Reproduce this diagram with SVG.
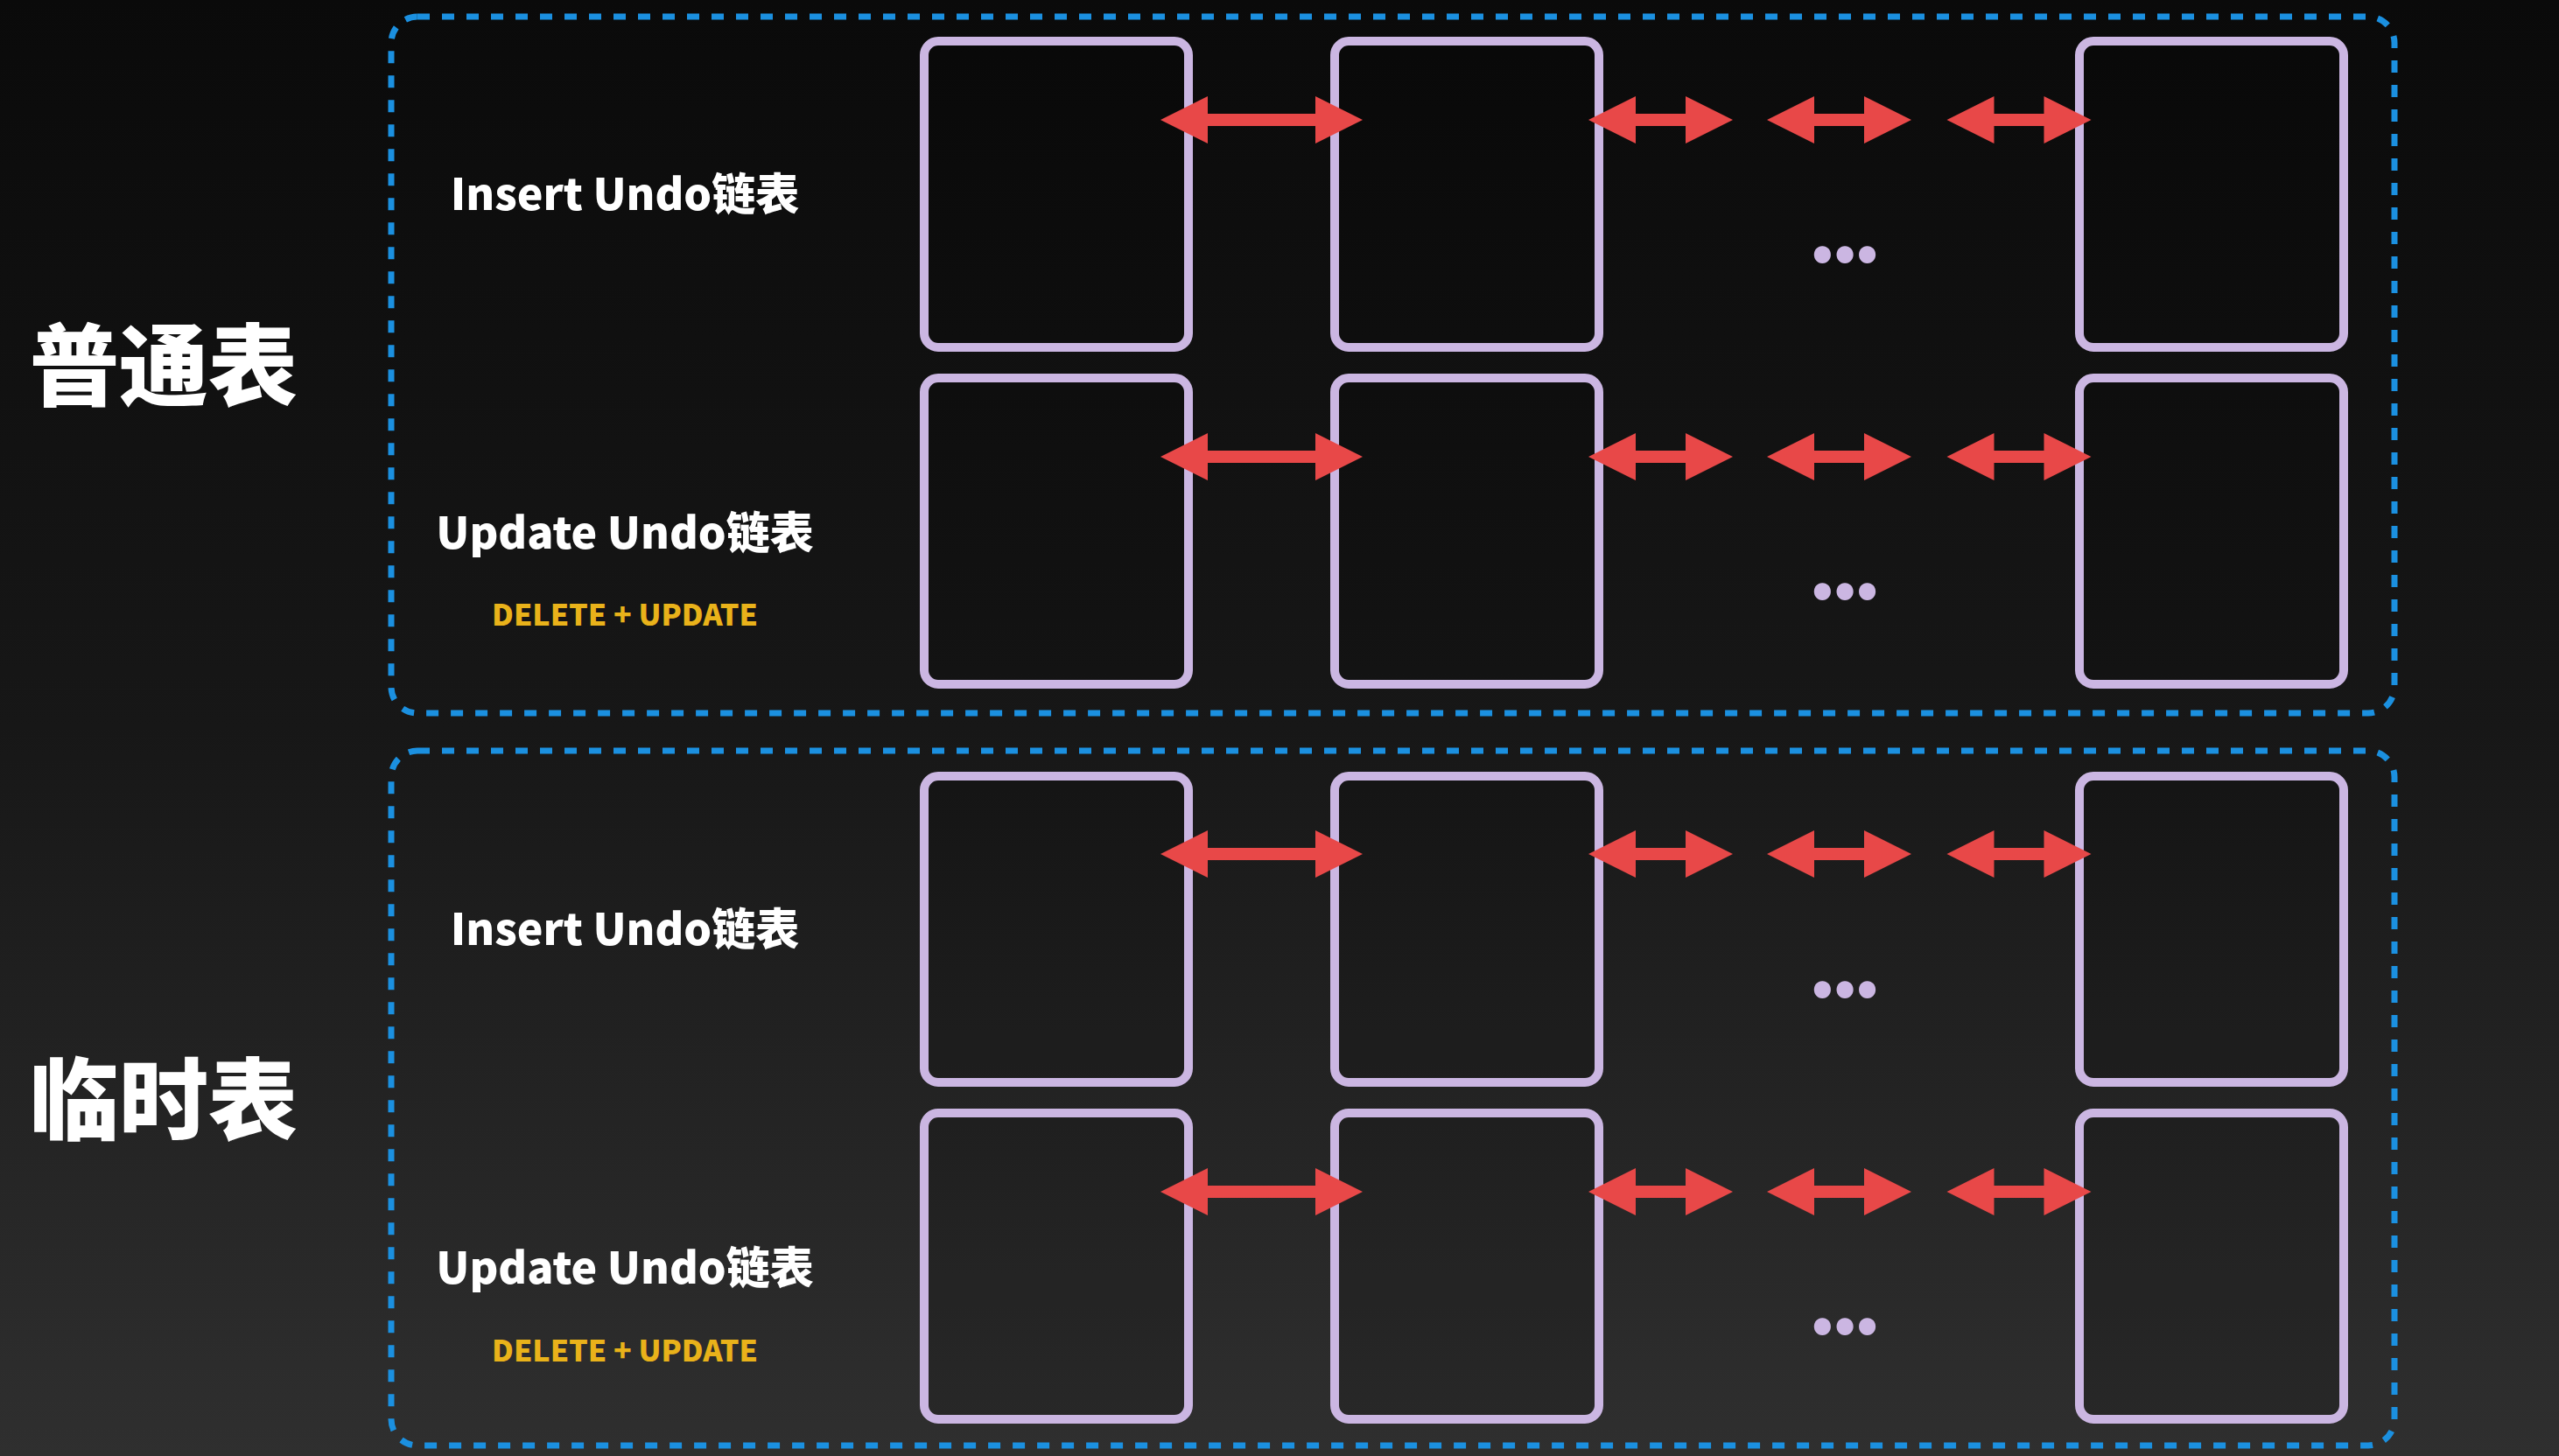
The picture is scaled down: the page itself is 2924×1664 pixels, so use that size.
<svg xmlns="http://www.w3.org/2000/svg" xmlns:xlink="http://www.w3.org/1999/xlink" width="2924" height="1664" viewBox="0 0 2924 1664">
<defs>
<linearGradient id="bg" x1="0" y1="0" x2="0" y2="1">
<stop offset="0" stop-color="#0a0a0a"/>
<stop offset="0.5" stop-color="#171717"/>
<stop offset="1" stop-color="#2f2f2f"/>
</linearGradient>
<path id="arrLong" d="M-115.5,0 L-61.5,-27 L-61.5,-7 L61.5,-7 L61.5,-27 L115.5,0 L61.5,27 L61.5,7 L-61.5,7 L-61.5,27 Z"/>
<path id="arrShort" d="M-82.5,0 L-28.5,-27 L-28.5,-7 L28.5,-7 L28.5,-27 L82.5,0 L28.5,27 L28.5,7 L-28.5,7 L-28.5,27 Z"/>
<style>
.grp{fill:none;stroke:#1b90e0;stroke-width:7;stroke-dasharray:14 14}
.node{fill:#000000;fill-opacity:0.12;stroke:#cbb6e2;stroke-width:10}
.arrow{fill:#e84848}
.lbl{font-family:"Noto Sans CJK SC","Noto Sans",sans-serif;font-weight:900;fill:#ffffff;font-size:50px;text-anchor:middle}
.sub{font-family:"Noto Sans CJK SC","Noto Sans",sans-serif;font-weight:900;fill:#e9b21a;font-size:34px;text-anchor:middle}
.big{font-family:"Noto Sans CJK SC",sans-serif;font-weight:900;fill:#ffffff;font-size:102px}
.dots{font-family:"Noto Sans CJK SC","Noto Sans",sans-serif;font-weight:900;fill:#cbb6e2;font-size:90px;text-anchor:middle;letter-spacing:-6px}
</style>
</defs>
<rect x="0" y="0" width="2924" height="1664" fill="url(#bg)"/>

<g id="group-normal">
<rect class="grp" x="447" y="19" width="2289" height="796" rx="30"/>
<text class="big" x="34" y="456">普通表</text>
<text class="lbl" x="714" y="240">Insert Undo链表</text>
<text class="lbl" x="714" y="627">Update Undo链表</text>
<text class="sub" x="714" y="715">DELETE + UPDATE</text>
</g>
<g id="group-temp">
<rect class="grp" x="447" y="858" width="2289" height="794" rx="30"/>
<text class="big" x="34" y="1295">临时表</text>
<text class="lbl" x="714" y="1080">Insert Undo链表</text>
<text class="lbl" x="714" y="1467">Update Undo链表</text>
<text class="sub" x="714" y="1556">DELETE + UPDATE</text>
</g>

<g id="n-r1-1"><rect class="node" x="1056" y="47" width="302" height="350" rx="16"/></g>
<g id="n-r1-2"><rect class="node" x="1525" y="47" width="302" height="350" rx="16"/></g>
<g id="n-r1-3"><rect class="node" x="2376" y="47" width="302" height="350" rx="16"/></g>
<g id="n-r2-1"><rect class="node" x="1056" y="432" width="302" height="350" rx="16"/></g>
<g id="n-r2-2"><rect class="node" x="1525" y="432" width="302" height="350" rx="16"/></g>
<g id="n-r2-3"><rect class="node" x="2376" y="432" width="302" height="350" rx="16"/></g>
<g id="n-r3-1"><rect class="node" x="1056" y="887" width="302" height="350" rx="16"/></g>
<g id="n-r3-2"><rect class="node" x="1525" y="887" width="302" height="350" rx="16"/></g>
<g id="n-r3-3"><rect class="node" x="2376" y="887" width="302" height="350" rx="16"/></g>
<g id="n-r4-1"><rect class="node" x="1056" y="1272" width="302" height="350" rx="16"/></g>
<g id="n-r4-2"><rect class="node" x="1525" y="1272" width="302" height="350" rx="16"/></g>
<g id="n-r4-3"><rect class="node" x="2376" y="1272" width="302" height="350" rx="16"/></g>

<g id="ellipses">
<text class="dots" x="2105" y="300">...</text>
<text class="dots" x="2105" y="685">...</text>
<text class="dots" x="2105" y="1140">...</text>
<text class="dots" x="2105" y="1525">...</text>
</g>

<g id="connectors" class="arrow">
<use xlink:href="#arrLong" x="1441.5" y="137"/>
<use xlink:href="#arrShort" x="1897.5" y="137"/>
<use xlink:href="#arrShort" x="2101.5" y="137"/>
<use xlink:href="#arrShort" x="2307" y="137"/>
<use xlink:href="#arrLong" x="1441.5" y="522"/>
<use xlink:href="#arrShort" x="1897.5" y="522"/>
<use xlink:href="#arrShort" x="2101.5" y="522"/>
<use xlink:href="#arrShort" x="2307" y="522"/>
<use xlink:href="#arrLong" x="1441.5" y="976"/>
<use xlink:href="#arrShort" x="1897.5" y="976"/>
<use xlink:href="#arrShort" x="2101.5" y="976"/>
<use xlink:href="#arrShort" x="2307" y="976"/>
<use xlink:href="#arrLong" x="1441.5" y="1362"/>
<use xlink:href="#arrShort" x="1897.5" y="1362"/>
<use xlink:href="#arrShort" x="2101.5" y="1362"/>
<use xlink:href="#arrShort" x="2307" y="1362"/>
</g>
</svg>
